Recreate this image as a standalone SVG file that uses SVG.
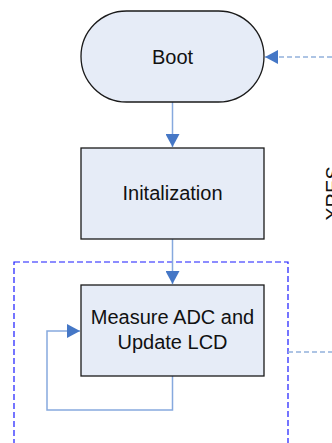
<svg xmlns="http://www.w3.org/2000/svg" width="332" height="443" viewBox="0 0 332 443">
<defs>
<style>
.node{fill:#e6ecf7;stroke:#1a1a1a;stroke-width:1.3}
.lbl{font-family:"Liberation Sans",Arial,sans-serif;font-size:20px;fill:#111;text-anchor:middle}
.conn{fill:none;stroke:#86a9de;stroke-width:1.5}
.dash{fill:none;stroke:#92b1dc;stroke-width:1.5;stroke-dasharray:5,3}
.frame{fill:none;stroke:#1a1aff;stroke-width:1.2;stroke-dasharray:6,3}
</style>
<marker id="ah" markerWidth="14" markerHeight="14" refX="13" refY="7" orient="auto" markerUnits="userSpaceOnUse">
<path d="M0,0 L13,7 L0,14 Z" fill="#4577c6"/>
</marker>
</defs>
<rect width="332" height="443" fill="#ffffff"/>
<rect id="frame" class="frame" x="14" y="262" width="274" height="200"/>
<g id="connectors">
<path class="conn" d="M172.5,102 V147" marker-end="url(#ah)"/>
<path class="conn" d="M172.5,239 V284" marker-end="url(#ah)"/>
<path class="conn" d="M172.5,376 V410 H47 V331 H80" marker-end="url(#ah)"/>
<path class="dash" d="M332,57 H265" marker-end="url(#ah)"/>
<path class="dash" d="M288,352 H332"/>
</g>
<g id="boot">
<rect class="node" x="81" y="11" width="183" height="91" rx="45.5" ry="45.5"/>
<text class="lbl" x="172.5" y="63.5">Boot</text>
</g>
<g id="init">
<rect class="node" x="81" y="148" width="183" height="91"/>
<text class="lbl" x="172.5" y="200">Initalization</text>
</g>
<g id="measure">
<rect class="node" x="81" y="285" width="183" height="91"/>
<text class="lbl" x="172.5" y="323.5">Measure ADC and</text>
<text class="lbl" x="172.5" y="349">Update LCD</text>
</g>
<g id="xres">
<text class="lbl" x="0" y="0" transform="translate(339.5,193.5) rotate(-90)">XRES</text>
</g>
</svg>
